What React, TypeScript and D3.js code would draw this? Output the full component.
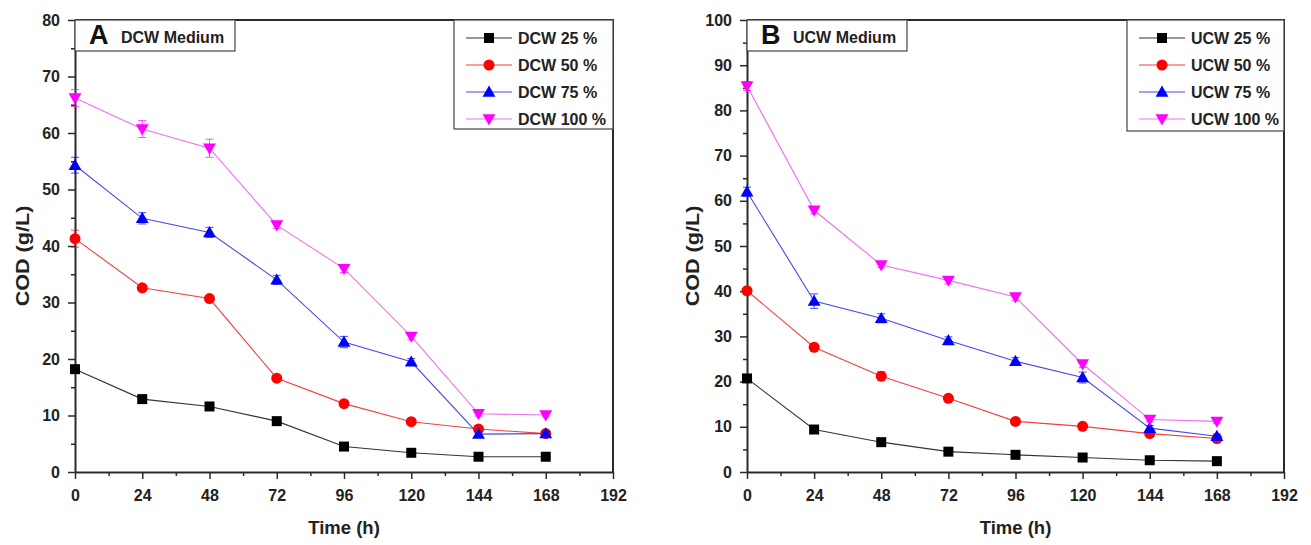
import React, { useEffect, useRef } from "react";
import * as d3 from "d3";

// sampling times (h)
const hours = [0, 24, 48, 72, 96, 120, 144, 168];
const xTicks = [0, 24, 48, 72, 96, 120, 144, 168, 192];
const xMinor = [12, 36, 60, 84, 108, 132, 156, 180];

// panel A - DCW medium, COD (g/L)
const dcw25 = [18.2, 12.9, 11.6, 9.0, 4.5, 3.4, 2.7, 2.7];
const dcw50 = [41.3, 32.6, 30.7, 16.6, 12.1, 8.9, 7.6, 6.8];
const dcw75 = [54.3, 44.9, 42.4, 34.0, 23.0, 19.5, 6.7, 6.8];
const dcw100 = [66.2, 60.7, 57.3, 43.7, 36.0, 24.0, 10.3, 10.1];
const dcw25Err = [0.4, 0.5, 0.4, 0.4, 0.3, 0.3, 0.2, 0.2];
const dcw50Err = [1.5, 0.5, 0.5, 0.5, 0.5, 0.4, 0.4, 0.3];
const dcw75Err = [1.4, 1.0, 0.9, 0.8, 1.0, 0.6, 0.4, 0.4];
const dcw100Err = [1.5, 1.5, 1.6, 0.6, 0.7, 0.6, 0.4, 0.4];
const dcwLabels = ["DCW 25 %", "DCW 50 %", "DCW 75 %", "DCW 100 %"];

// panel B - UCW medium, COD (g/L)
const ucw25 = [20.7, 9.4, 6.6, 4.5, 3.8, 3.2, 2.6, 2.4];
const ucw50 = [40.1, 27.6, 21.2, 16.3, 11.2, 10.1, 8.5, 7.4];
const ucw75 = [62.0, 37.8, 34.0, 29.1, 24.5, 20.9, 9.7, 7.9];
const ucw100 = [85.4, 57.9, 45.8, 42.4, 38.7, 23.9, 11.6, 11.2];
const ucw25Err = [0.5, 0.8, 0.6, 0.4, 0.4, 0.3, 0.3, 0.3];
const ucw50Err = [0.6, 0.6, 1.0, 0.6, 0.5, 0.5, 0.5, 0.4];
const ucw75Err = [1.0, 1.6, 1.0, 0.8, 0.8, 1.2, 0.6, 0.5];
const ucw100Err = [1.0, 0.8, 0.6, 0.8, 0.8, 0.8, 0.5, 0.5];
const ucwLabels = ["UCW 25 %", "UCW 50 %", "UCW 75 %", "UCW 100 %"];

const colors = ["#000000", "#ff0000", "#0000ff", "#ff00ff"];
const lineColors = ["#333333", "#f04040", "#4848e8", "#f070f0"];
const shapes = ["square", "circle", "up", "down"];

const FONT = "'Liberation Sans', Arial, sans-serif";
const AXIS = "#2a2a2a";

type Panel = {
  left: number;
  right: number;
  top: number;
  bottom: number;
  yMax: number;
  series: number[][];
  errors: number[][];
  labels: string[];
  letter: string;
  title: string;
  titleBoxW: number;
  legendX: number;
  legendH: number;
  yTitleX: number;
};

const panels: Panel[] = [
  {
    left: 75, right: 613, top: 20, bottom: 472, yMax: 80,
    series: [dcw25, dcw50, dcw75, dcw100],
    errors: [dcw25Err, dcw50Err, dcw75Err, dcw100Err],
    labels: dcwLabels, letter: "A", title: "DCW Medium",
    titleBoxW: 160, legendX: 454, legendH: 109, yTitleX: 22,
  },
  {
    left: 747, right: 1284, top: 20, bottom: 472, yMax: 100,
    series: [ucw25, ucw50, ucw75, ucw100],
    errors: [ucw25Err, ucw50Err, ucw75Err, ucw100Err],
    labels: ucwLabels, letter: "B", title: "UCW Medium",
    titleBoxW: 160, legendX: 1127, legendH: 111, yTitleX: 692,
  },
];

function symbolPath(shape: string) {
  if (shape === "square") return d3.symbol(d3.symbolSquare, 100)();
  if (shape === "circle") return d3.symbol(d3.symbolCircle, 95)();
  return d3.symbol(d3.symbolTriangle, 72)();
}

function drawPanel(svg: d3.Selection<SVGSVGElement, unknown, null, undefined>, p: Panel) {
  const x = d3.scaleLinear().domain([0, 192]).range([p.left, p.right]);
  const y = d3.scaleLinear().domain([0, p.yMax]).range([p.bottom, p.top]);
  const yTicks = d3.range(0, p.yMax + 1, 10);
  const yMinor = d3.range(5, p.yMax, 10);

  const g = svg.append("g");

  // minor ticks
  g.append("g")
    .attr("transform", `translate(0,${p.bottom})`)
    .call(d3.axisBottom(x).tickValues(xMinor).tickSize(4).tickFormat(() => ""))
    .call(s => s.select(".domain").remove())
    .selectAll("line").attr("stroke", AXIS).attr("stroke-width", 1.5);
  g.append("g")
    .attr("transform", `translate(${p.left},0)`)
    .call(d3.axisLeft(y).tickValues(yMinor).tickSize(4).tickFormat(() => ""))
    .call(s => s.select(".domain").remove())
    .selectAll("line").attr("stroke", AXIS).attr("stroke-width", 1.5);

  // major axes
  const xa = g.append("g")
    .attr("transform", `translate(0,${p.bottom})`)
    .call(d3.axisBottom(x).tickValues(xTicks).tickSize(7).tickSizeOuter(0).tickPadding(11));
  const ya = g.append("g")
    .attr("transform", `translate(${p.left},0)`)
    .call(d3.axisLeft(y).tickValues(yTicks).tickSize(7).tickSizeOuter(0).tickPadding(8));
  [xa, ya].forEach(a => {
    a.select(".domain").attr("stroke", AXIS).attr("stroke-width", 2);
    a.selectAll(".tick line").attr("stroke", AXIS).attr("stroke-width", 1.5);
    a.selectAll(".tick text")
      .attr("fill", "#222")
      .style("font-family", FONT)
      .style("font-weight", "bold")
      .style("font-size", "16px");
  });

  // top and right frame
  g.append("path")
    .attr("d", `M${p.left},${p.top}H${p.right}V${p.bottom}`)
    .attr("fill", "none")
    .attr("stroke", AXIS)
    .attr("stroke-width", 2);

  const line = d3.line<number>().x((d, i) => x(hours[i])).y(d => y(d));

  p.series.forEach((vals, si) => {
    g.append("path")
      .datum(vals)
      .attr("d", line)
      .attr("fill", "none")
      .attr("stroke", lineColors[si])
      .attr("stroke-width", 1.1);
  });

  p.series.forEach((vals, si) => {
    const eb = g.append("g").attr("stroke", colors[si]).attr("stroke-width", 1).attr("opacity", 0.7);
    vals.forEach((v, i) => {
      const e = p.errors[si][i];
      const cx = x(hours[i]);
      eb.append("line").attr("x1", cx).attr("x2", cx).attr("y1", y(v - e)).attr("y2", y(v + e));
      eb.append("line").attr("x1", cx - 4).attr("x2", cx + 4).attr("y1", y(v - e)).attr("y2", y(v - e));
      eb.append("line").attr("x1", cx - 4).attr("x2", cx + 4).attr("y1", y(v + e)).attr("y2", y(v + e));
    });
    g.append("g")
      .selectAll("path")
      .data(vals)
      .join("path")
      .attr("d", symbolPath(shapes[si]))
      .attr("transform", (d, i) =>
        `translate(${x(hours[i])},${y(d) + (shapes[si] === "up" ? 1 : shapes[si] === "down" ? -1 : 0)})` +
        (shapes[si] === "down" ? " rotate(180)" : ""))
      .attr("fill", colors[si]);
  });

  // title box
  const tb = g.append("g");
  tb.append("rect")
    .attr("x", p.left).attr("y", p.top)
    .attr("width", p.titleBoxW).attr("height", 31)
    .attr("fill", "#fff").attr("stroke", "#444").attr("stroke-width", 1.2);
  tb.append("text")
    .attr("x", p.left + 14).attr("y", p.top + 24)
    .style("font-family", FONT).style("font-weight", "bold").style("font-size", "27px")
    .attr("fill", "#111")
    .text(p.letter);
  tb.append("text")
    .attr("x", p.left + 46).attr("y", p.top + 23)
    .style("font-family", FONT).style("font-weight", "bold").style("font-size", "16px")
    .attr("fill", "#222")
    .text(p.title);

  // legend
  const lw = p.right - p.legendX;
  const lg = g.append("g");
  lg.append("rect")
    .attr("x", p.legendX).attr("y", p.top)
    .attr("width", lw).attr("height", p.legendH)
    .attr("fill", "#fff").attr("stroke", "#444").attr("stroke-width", 1.2);
  p.labels.forEach((lab, si) => {
    const ly = p.top + 18 + si * 27;
    lg.append("line")
      .attr("x1", p.legendX + 12).attr("x2", p.legendX + 58)
      .attr("y1", ly).attr("y2", ly)
      .attr("stroke", lineColors[si]).attr("stroke-width", 1.1);
    lg.append("path")
      .attr("d", symbolPath(shapes[si]))
      .attr("transform", `translate(${p.legendX + 35},${ly + (shapes[si] === "up" ? 1 : shapes[si] === "down" ? -1 : 0)})` +
        (shapes[si] === "down" ? " rotate(180)" : ""))
      .attr("fill", colors[si]);
    lg.append("text")
      .attr("x", p.legendX + 64).attr("y", ly + 6)
      .style("font-family", FONT).style("font-weight", "bold").style("font-size", "16px")
      .attr("fill", "#222")
      .text(lab);
  });

  // axis titles
  g.append("text")
    .attr("transform", `translate(${(p.left + p.right) / 2},534)`)
    .attr("text-anchor", "middle")
    .style("font-family", FONT).style("font-weight", "bold").style("font-size", "18.5px")
    .attr("fill", "#222")
    .text("Time (h)");
  g.append("text")
    .attr("transform", `translate(${p.yTitleX + 7},256) rotate(-90) scale(1.2,1)`)
    .attr("text-anchor", "middle")
    .style("font-family", FONT).style("font-weight", "bold").style("font-size", "18px")
    .attr("fill", "#222")
    .text("COD (g/L)");
}

export default function App() {
  const ref = useRef<SVGSVGElement | null>(null);

  useEffect(() => {
    const svg = d3.select(ref.current!);
    svg.selectAll("*").remove();
    panels.forEach(p => drawPanel(svg, p));
  }, []);

  return (
    <svg
      ref={ref}
      width={1311}
      height={545}
      style={{ position: "absolute", left: 0, top: 0, background: "#fff" }}
    />
  );
}
